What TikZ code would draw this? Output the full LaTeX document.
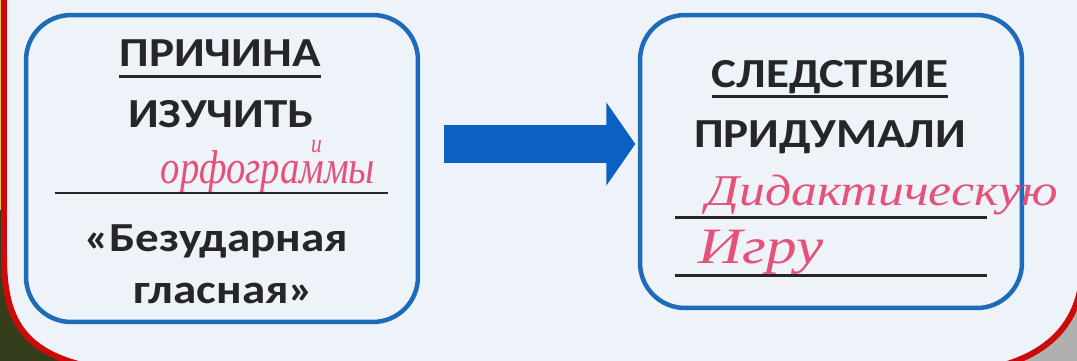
\documentclass[tikz,border=0pt]{standalone}
\usepackage{fontspec}
\setmainfont{Carlito}[FakeStretch=1.14]
\newfontfamily\handfont{Liberation Serif}
\usepackage{tikz}
\usetikzlibrary{arrows.meta}

\definecolor{framered}{RGB}{205,10,10}
\definecolor{paper}{RGB}{238,242,249}
\definecolor{boxblue}{RGB}{30,108,185}
\definecolor{arrowblue}{RGB}{12,96,196}
\definecolor{ink}{RGB}{38,38,40}
\definecolor{pen}{RGB}{228,82,122}
\definecolor{bgolive}{RGB}{52,62,28}
\definecolor{bggrey}{RGB}{176,176,176}
\definecolor{bgyellow}{RGB}{232,196,70}

\begin{document}
\begin{tikzpicture}[x=0.02cm,y=-0.02cm,
        box/.style={draw=boxblue, line width=0.09cm, rounded corners=0.9cm},
        word/.style={anchor=base, inner sep=0pt, text=ink, font=\fontsize{23.5}{28}\selectfont\bfseries},
        hand/.style={anchor=base, inner sep=0pt, text=pen, font=\handfont\itshape\fontsize{25}{30}\selectfont},
        blank/.style={draw=ink, line width=0.06cm},
        blockarrow/.style={draw=arrowblue, line width=0.76cm, -{Triangle[length=0.58cm, width=1.64cm]}}]
            \useasboundingbox (0,0) rectangle (1077,361);
            \clip (0,0) rectangle (1077,361);

            % what lies behind the frame
            \fill[bgyellow] (0,0) rectangle (20,210);
            \fill[bgolive] (0,210) rectangle (540,361);
            \fill[bggrey] (540,200) rectangle (1100,361);

            % the frame
            \draw[fill=paper, draw=framered, line width=0.12cm]
                (4,-20) -- (4,255) .. controls (4,322) and (22,362) .. (125,372)
                -- (950,374) .. controls (1040,368) and (1083,330) .. (1083,262)
                -- (1083,-20) -- cycle;

            % the two boxes
            \node[box, minimum width=7.84cm, minimum height=6.14cm] (cause) at (222,168.5) {};
            \node[box, minimum width=7.64cm, minimum height=5.86cm] (effect) at (831,161.5) {};

            % left box
            \node[word] (causetitle) at (220,67) {ПРИЧИНА};
            \draw[blank] ([yshift=-0.2cm]causetitle.base west) -- ([yshift=-0.2cm]causetitle.base east);
            \node[word] (study) at (221,128) {ИЗУЧИТЬ};
            \node[hand, font=\handfont\itshape\fontsize{27}{32}\selectfont] (spelling) at (268,184)
                {\scalebox{0.815}[1]{орфогра\rlap{\hspace{0.3em}\raisebox{0.66em}{\fontsize{15}{16}\selectfont и}}ммы}};
            \draw[blank] (55,193) -- (388,193);
            \node[word] (vowel1) at (216,251) {«Безударная};
            \node[word] (vowel2) at (224,303) {гласная»};

            % right box
            \node[word] (effecttitle) at (830,88) {СЛЕДСТВИЕ};
            \draw[blank] ([yshift=-0.18cm]effecttitle.base west) -- ([yshift=-0.18cm]effecttitle.base east);
            \node[word] (made) at (830,148) {ПРИДУМАЛИ};
            \node[hand] (didactic) at (882,205) {\scalebox{1.18}[1]{Дидактическую}};
            \draw[blank] (675,217) -- (987,217);
            \node[hand, font=\handfont\itshape\fontsize{29}{34}\selectfont] (game) at (761,263) {\scalebox{1.2}[1]{Игру}};
            \draw[blank] (675,275) -- (987,275);

            % the arrow
            \coordinate (arrowstart) at (444,144);
            \draw[blockarrow, shorten >=0.05cm] (arrowstart) -- (effect.west |- arrowstart);
        \end{tikzpicture}
\end{document}
